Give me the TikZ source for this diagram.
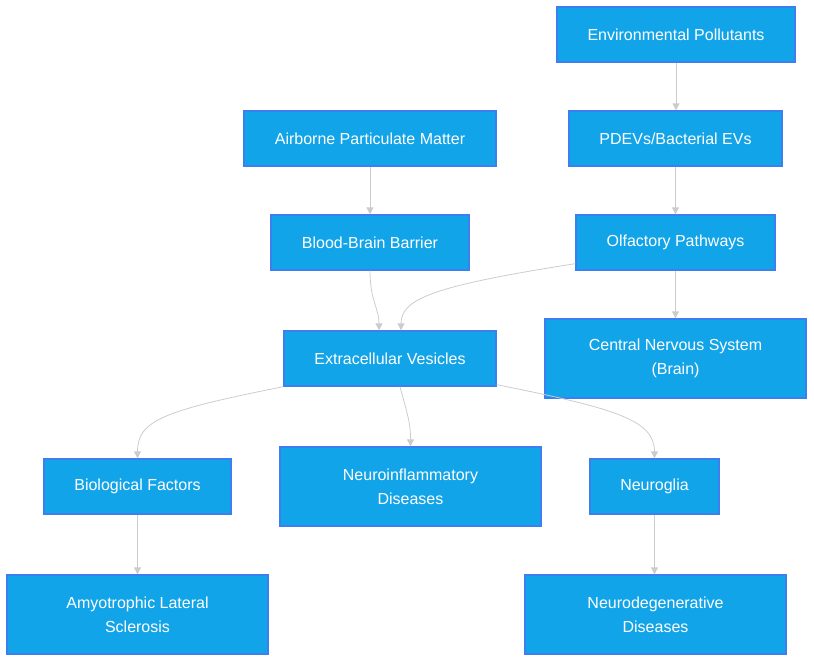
\documentclass[tikz,border=0pt]{standalone}
\usepackage{fontspec}
\setmainfont{Liberation Sans}
\usetikzlibrary{arrows.meta,calc}
\definecolor{boxfill}{HTML}{12A4E9}
\definecolor{boxline}{HTML}{3D7FF0}
\definecolor{edgecol}{HTML}{CCCCCC}
\tikzset{
  box/.style={draw=boxline, line width=1.3pt, fill=boxfill, text=white, inner sep=0pt,
    align=center, font=\fontsize{16}{24}\selectfont},
  link/.style={draw=edgecol, line width=0.8pt, -{Triangle[length=7pt,width=7pt]}}
}
\begin{document}
\begin{tikzpicture}[x=1pt,y=-1pt]
\useasboundingbox (0,0) rectangle (814,662);
\node[box, minimum width=238pt, minimum height=55pt] (env) at (676,34.5) {Environmental Pollutants};
\node[box, minimum width=213pt, minimum height=55pt] (pdev) at (675.5,138.5) {PDEVs/Bacterial EVs};
\node[box, minimum width=252pt, minimum height=55pt] (air) at (370,138.5) {Airborne Particulate Matter};
\node[box, minimum width=198pt, minimum height=55pt] (bbb) at (370,242.5) {Blood-Brain Barrier};
\node[box, minimum width=199pt, minimum height=55pt] (olf) at (675.5,242.5) {Olfactory Pathways};
\node[box, minimum width=212pt, minimum height=55pt] (ev) at (390,358.5) {Extracellular Vesicles};
\node[box, minimum width=261pt, minimum height=79pt] (cns) at (675.5,358.5) {Central Nervous System\\(Brain)};
\node[box, minimum width=187pt, minimum height=55pt] (bio) at (137.5,486.5) {Biological Factors};
\node[box, minimum width=261pt, minimum height=79pt] (ninf) at (410.5,486.5) {Neuroinflammatory\\Diseases};
\node[box, minimum width=129pt, minimum height=55pt] (glia) at (654.5,486.5) {Neuroglia};
\node[box, minimum width=261pt, minimum height=79pt] (als) at (137.5,614.5) {Amyotrophic Lateral\\Sclerosis};
\node[box, minimum width=261pt, minimum height=79pt] (ndeg) at (655.5,614.5) {Neurodegenerative\\Diseases};

\draw[link] (env.south) -- (env.south |- pdev.north);
\draw[link] (pdev.south) -- (olf.north);
\draw[link] (air.south) -- (bbb.north);
\draw[link] (olf.south) -- (cns.north);
\draw[link] (bio.south) -- (als.north);
\draw[link] (glia.south) -- (glia.south |- ndeg.north);
\draw[link] (bbb.south) .. controls +(0,30) and +(0,-22) .. ($(ev.north)+(-11,0)$);
\draw[link] ($(olf.south west)+(0,-7)$) .. controls +(-140,22) and +(0,-32) .. ($(ev.north)+(11,0)$);
\draw[link] (ev.south west) .. controls +(-120,24) and +(0,-38) .. (bio.north);
\draw[link] ($(ev.south)+(10,0)$) .. controls +(8,30) and +(0,-24) .. (ninf.north);
\draw[link] ($(ev.south east)+(0,-2)$) .. controls +(120,24) and +(0,-38) .. (glia.north);
\end{tikzpicture}
\end{document}
